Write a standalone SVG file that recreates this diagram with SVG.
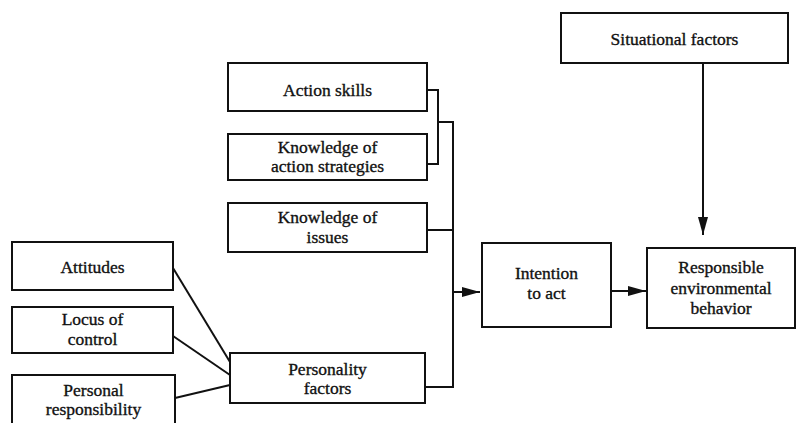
<svg xmlns="http://www.w3.org/2000/svg" width="797" height="423" viewBox="0 0 797 423">
<style>
.box{fill:#fff;stroke:#111;stroke-width:2}
.t{font-family:'Liberation Serif','Times New Roman','DejaVu Serif',serif;font-size:17.5px;fill:#111;stroke:#111;stroke-width:0.35;text-anchor:middle}
.c{fill:none;stroke:#111;stroke-width:2}
</style>
<defs>
<marker id="ah" viewBox="0 0 18 10" refX="18" refY="5" markerWidth="18" markerHeight="10" markerUnits="userSpaceOnUse" orient="auto">
<path d="M0,0 L18,5 L0,10 Z" fill="#111"/>
</marker>
</defs>
<rect width="797" height="423" fill="#fff"/>
<g id="connectors">
<polyline class="c" points="427,90 438,90 438,164 427,164"/>
<polyline class="c" points="438,122 453,122 453,387 425,387"/>
<line class="c" x1="427" y1="230" x2="453" y2="230"/>
<line class="c" x1="453" y1="292" x2="480" y2="292" marker-end="url(#ah)"/>
<line class="c" x1="611" y1="291" x2="646" y2="291" marker-end="url(#ah)"/>
<line class="c" x1="703" y1="63" x2="703" y2="235" marker-end="url(#ah)"/>
<line class="c" x1="173" y1="268" x2="230" y2="362"/>
<line class="c" x1="173" y1="336" x2="230" y2="375"/>
<line class="c" x1="175" y1="398" x2="230" y2="385"/>
</g>
<g id="action-skills">
<rect class="box" x="228" y="63" width="199" height="48"/>
<text class="t" x="327.5" y="96">Action skills</text>
</g>
<g id="knowledge-strategies">
<rect class="box" x="228" y="134" width="199" height="46"/>
<text class="t" x="327.5" y="153">Knowledge of</text>
<text class="t" x="327.5" y="172">action strategies</text>
</g>
<g id="knowledge-issues">
<rect class="box" x="228" y="203" width="199" height="49"/>
<text class="t" x="327.5" y="223">Knowledge of</text>
<text class="t" x="327.5" y="243">issues</text>
</g>
<g id="attitudes">
<rect class="box" x="12" y="242" width="161" height="48"/>
<text class="t" x="92.5" y="273">Attitudes</text>
</g>
<g id="locus">
<rect class="box" x="12" y="307" width="161" height="46"/>
<text class="t" x="92.5" y="325">Locus of</text>
<text class="t" x="92.5" y="345">control</text>
</g>
<g id="personal-responsibility">
<rect class="box" x="12" y="375" width="163" height="60"/>
<text class="t" x="93.5" y="396">Personal</text>
<text class="t" x="93.5" y="415">responsibility</text>
</g>
<g id="personality">
<rect class="box" x="230" y="353" width="195" height="50"/>
<text class="t" x="327.5" y="375">Personality</text>
<text class="t" x="327.5" y="394">factors</text>
</g>
<g id="situational">
<rect class="box" x="561" y="13" width="227" height="50"/>
<text class="t" x="674.5" y="45">Situational factors</text>
</g>
<g id="intention">
<rect class="box" x="482" y="243" width="129" height="84"/>
<text class="t" x="546.5" y="279">Intention</text>
<text class="t" x="546.5" y="299">to act</text>
</g>
<g id="behavior">
<rect class="box" x="647" y="248" width="148" height="80"/>
<text class="t" x="721" y="273">Responsible</text>
<text class="t" x="721" y="294">environmental</text>
<text class="t" x="721" y="314">behavior</text>
</g>
</svg>
